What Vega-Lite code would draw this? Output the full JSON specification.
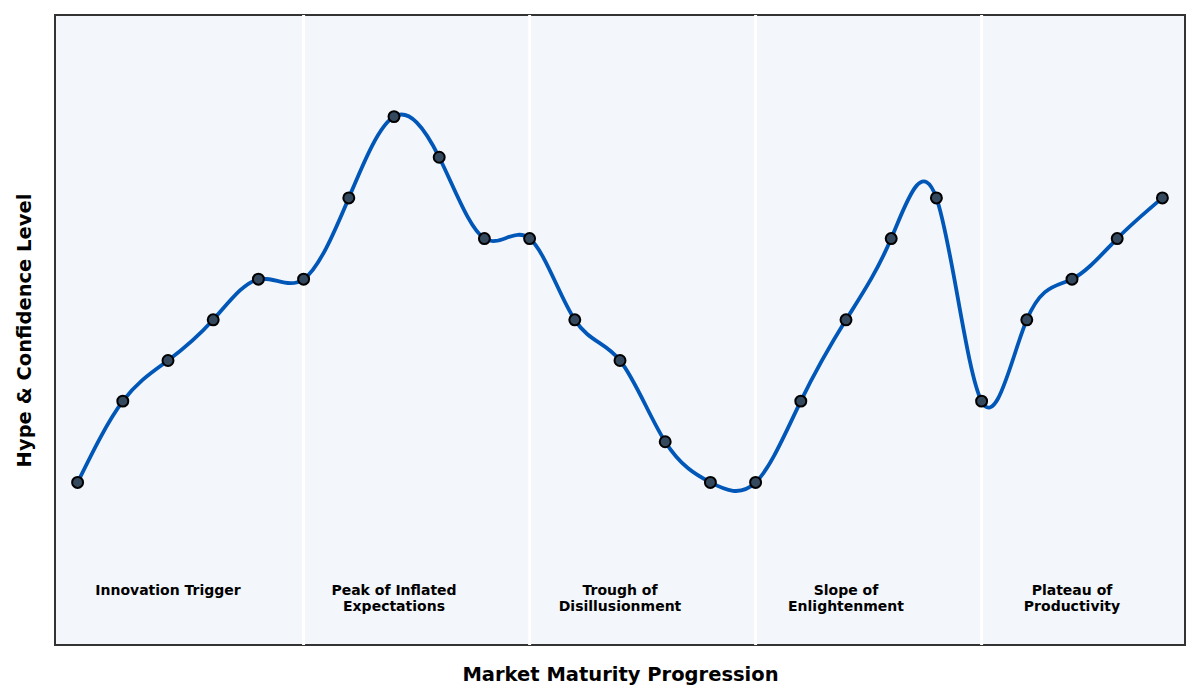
{
  "$schema": "https://vega.github.io/schema/vega-lite/v6.json",
  "autosize": {"type": "none"},
  "padding": {"left": 55, "top": 15, "right": 15, "bottom": 55},
  "width": 1130,
  "height": 630,
  "config": {
    "font": "DejaVu Sans",
    "view": {"fill": "#f3f6fa", "stroke": "#333333", "strokeWidth": 2}
  },
  "datasets": {
    "points": [
      {"i": 0, "v": 2}, {"i": 1, "v": 4}, {"i": 2, "v": 5}, {"i": 3, "v": 6}, {"i": 4, "v": 7},
      {"i": 5, "v": 7}, {"i": 6, "v": 9}, {"i": 7, "v": 11}, {"i": 8, "v": 10}, {"i": 9, "v": 8},
      {"i": 10, "v": 8}, {"i": 11, "v": 6}, {"i": 12, "v": 5}, {"i": 13, "v": 3}, {"i": 14, "v": 2},
      {"i": 15, "v": 2}, {"i": 16, "v": 4}, {"i": 17, "v": 6}, {"i": 18, "v": 8}, {"i": 19, "v": 9},
      {"i": 20, "v": 4}, {"i": 21, "v": 6}, {"i": 22, "v": 7}, {"i": 23, "v": 8}, {"i": 24, "v": 9}
    ],
    "bounds": [{"i": 5}, {"i": 10}, {"i": 15}, {"i": 20}],
    "phases": [
      {"i": 2, "y": -0.5, "label": "Innovation Trigger"},
      {"i": 7, "y": -0.5, "label": "Peak of Inflated\nExpectations"},
      {"i": 12, "y": -0.5, "label": "Trough of\nDisillusionment"},
      {"i": 17, "y": -0.5, "label": "Slope of\nEnlightenment"},
      {"i": 22, "y": -0.5, "label": "Plateau of\nProductivity"}
    ]
  },
  "encoding": {
    "x": {
      "field": "i", "type": "quantitative",
      "scale": {"domain": [-0.5, 24.5], "nice": false, "zero": false},
      "axis": {"labels": false, "ticks": false, "domain": false, "grid": false,
               "title": "Market Maturity Progression", "titleFontSize": 19.5, "titleFontWeight": "bold",
               "titleColor": "#000000", "titlePadding": 20}
    }
  },
  "layer": [
    {
      "data": {"name": "bounds"},
      "mark": {"type": "rule", "color": "#ffffff", "strokeWidth": 3},
      "encoding": {}
    },
    {
      "data": {"name": "points"},
      "mark": {"type": "line", "interpolate": "natural", "color": "#0057b7", "strokeWidth": 3.8},
      "encoding": {
        "y": {
          "field": "v", "type": "quantitative",
          "scale": {"domain": [-2, 13.5], "nice": false, "zero": false},
          "axis": {"labels": false, "ticks": false, "domain": false, "grid": false,
                   "title": "Hype & Confidence Level", "titleFontSize": 19.5, "titleFontWeight": "bold",
                   "titleColor": "#000000", "titlePadding": 21}
        }
      }
    },
    {
      "data": {"name": "points"},
      "mark": {"type": "point", "filled": true, "fill": "#34495e", "stroke": "#000000", "strokeWidth": 2, "size": 120, "opacity": 1},
      "encoding": {
        "y": {"field": "v", "type": "quantitative"}
      }
    },
    {
      "data": {"name": "phases"},
      "mark": {"type": "text", "fontSize": 14, "fontWeight": "bold", "color": "#000000", "baseline": "top", "align": "center", "lineBreak": "\n", "lineHeight": 16},
      "encoding": {
        "y": {"field": "y", "type": "quantitative"},
        "text": {"field": "label"}
      }
    }
  ]
}
